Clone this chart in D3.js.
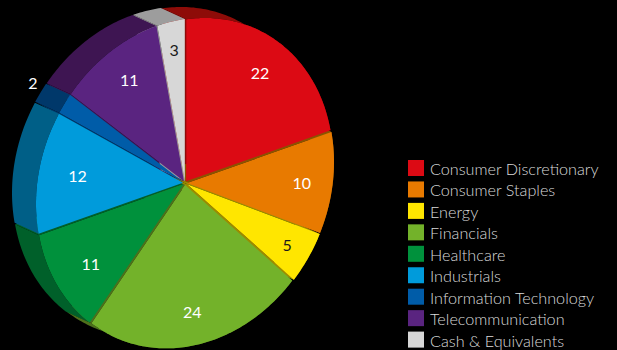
<!DOCTYPE html>
<html>
<head>
<meta charset="utf-8">
<script src="https://cdn.jsdelivr.net/npm/d3@7"></script>
<style>
  html, body { margin: 0; padding: 0; background: #000; }
  svg { display: block; }
</style>
</head>
<body>
<svg id="chart" width="617" height="350"></svg>
<script>
// Sector weights (%)
const sectors = ["Consumer Discretionary", "Consumer Staples", "Energy", "Financials",
                 "Healthcare", "Industrials", "Information Technology",
                 "Telecommunication", "Cash & Equivalents"];
const weights = [22, 10, 5, 24, 11, 12, 2, 11, 3];
const faceColors = ["#dc0a14", "#e87a00", "#ffe600", "#73b22a", "#00913c",
                    "#009bdb", "#005ca8", "#5a2480", "#d7d7d7"];
const wallColors = ["#8e0c08", "#8a5400", "#9c8c00", "#4d701b", "#00602a",
                    "#005f87", "#00386a", "#3e1552", "#9d9d9d"];
const labelColors = ["#fff", "#fff", "#1a1a1a", "#fff", "#fff", "#fff", "#fff", "#fff", "#1a1a1a"];

const svg = d3.select("#chart");
const W = 617, H = 350;
svg.append("rect").attr("width", W).attr("height", H).attr("fill", "#000");

// Tilted disc: screen position of a rim point at angle t (clockwise from 12 o'clock)
const cx = 185, cy = 183;
const A = [[147, 0], [-21, -162]];
const depth = [-24, -11];          // screen offset from front face to back face
const explode = 2;                 // small separation between slices, px

function proj(t, k) {
  const s = Math.sin(t), c = Math.cos(t);
  return [cx + k * (A[0][0] * s + A[0][1] * c), cy + k * (A[1][0] * s + A[1][1] * c)];
}
function tangent(t) {
  const s = Math.sin(t), c = Math.cos(t);
  return [A[0][0] * c - A[0][1] * s, A[1][0] * c - A[1][1] * s];
}
const add = (p, q) => [p[0] + q[0], p[1] + q[1]];
const dot = (p, q) => p[0] * q[0] + p[1] * q[1];

const pie = d3.pie().sort(null).value(d => d).startAngle(0).endAngle(2 * Math.PI);
const arcs = pie(weights).map((a, i) => {
  const mid = (a.startAngle + a.endAngle) / 2;
  const m = proj(mid, 1);
  const len = Math.hypot(m[0] - cx, m[1] - cy);
  const off = [(m[0] - cx) / len * explode, (m[1] - cy) / len * explode];
  return { ...a, i, mid, off };
});

const line = d3.line();
function rim(a, k) {
  const n = Math.max(8, Math.ceil((a.endAngle - a.startAngle) * 60));
  return d3.range(n + 1).map(j => {
    const t = a.startAngle + (a.endAngle - a.startAngle) * j / n;
    return add(proj(t, k), a.off);
  });
}

const gWalls = svg.append("g");
const gRims = svg.append("g");
const gFaces = svg.append("g");
const gLabels = svg.append("g");

// Radial side walls that face the viewer
arcs.forEach(a => {
  const c0 = add([cx, cy], a.off);
  [[a.startAngle, -1], [a.endAngle, 1]].forEach(([t, dir]) => {
    const p = add(proj(t, 1), a.off);
    const u = [p[0] - c0[0], p[1] - c0[1]];
    let n = [-u[1], u[0]];
    if (dot(n, tangent(t)) * dir < 0) n = [-n[0], -n[1]];
    if (dot(n, depth) > 0) {
      const pts = [c0, p, add(p, depth), add(c0, depth)];
      gWalls.append("path").attr("d", line(pts) + "Z").attr("fill", wallColors[a.i]);
    }
  });
});

// Outer rim walls
arcs.forEach(a => {
  const front = rim(a, 1);
  const back = front.map(p => add(p, depth)).reverse();
  gRims.append("path")
    .attr("d", line(front.concat(back)) + "Z")
    .attr("fill", wallColors[a.i]);
});

// Front faces
arcs.forEach(a => {
  const pts = [add([cx, cy], a.off)].concat(rim(a, 1));
  gFaces.append("path")
    .attr("d", line(pts) + "Z")
    .attr("fill", faceColors[a.i]);
});

// Value labels: thin slices get theirs outside the rim
arcs.forEach(a => {
  const outside = a.data < 3;
  const k = outside ? 1.28 : (a.data <= 5 ? 0.84 : 0.8);
  const p = proj(a.mid, k);
  // inside labels on the left half sit a little closer to the centre
  const x = (!outside && p[0] < cx) ? cx + (p[0] - cx) * 0.93 : p[0];
  gLabels.append("text")
    .attr("x", x).attr("y", p[1])
    .attr("text-anchor", "middle")
    .attr("dominant-baseline", "central")
    .attr("font-family", "Lato, 'DejaVu Sans', sans-serif")
    .attr("font-weight", 400)
    .attr("font-size", 16)
    .attr("fill", outside ? "#fff" : labelColors[a.i])
    .text(a.data);
});

// Legend
const legend = svg.append("g").attr("transform", "translate(408,160)");
const rowH = 21.45;
sectors.forEach((name, i) => {
  const g = legend.append("g").attr("transform", `translate(0,${i * rowH})`);
  g.append("rect").attr("width", 16).attr("height", 16).attr("fill", faceColors[i]);
  g.append("text")
    .attr("x", 22).attr("y", 8.5)
    .attr("dominant-baseline", "central")
    .attr("font-family", "Lato, 'DejaVu Sans', sans-serif")
    .attr("font-weight", 300)
    .attr("font-size", 16.2)
    .attr("fill", "#d9d9d9")
    .text(name);
});
</script>
</body>
</html>
